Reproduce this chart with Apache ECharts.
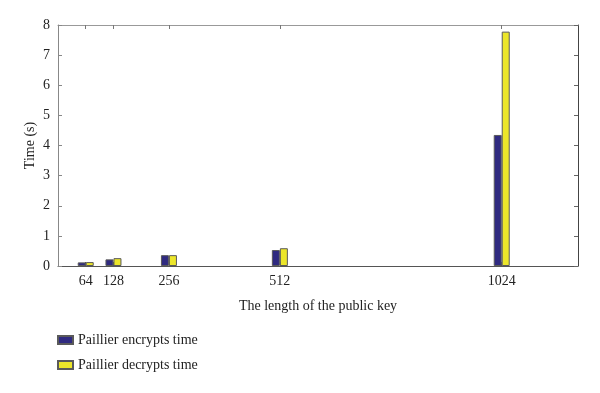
<!DOCTYPE html>
<html>
<head>
<meta charset="utf-8">
<script src="https://cdn.jsdelivr.net/npm/echarts@6/dist/echarts.min.js"></script>
<style>html,body{margin:0;padding:0;background:#fff}#c{width:600px;height:393px}</style>
</head>
<body>
<div id="c"></div>
<script>
const keyLengths = [64, 128, 256, 512, 1024];
const encryptTimes = [0.12, 0.22, 0.36, 0.53, 4.35];
const decryptTimes = [0.13, 0.26, 0.36, 0.59, 7.78];
const yTicks = [0, 1, 2, 3, 4, 5, 6, 7, 8];
const seriesNames = ['Paillier encrypts time', 'Paillier decrypts time'];

const font = 'Liberation Serif';
const chart = echarts.init(document.getElementById('c'));
const mk = arr => keyLengths.map((k, i) => [k, arr[i]]);
const barStyle = c => ({ color: c, borderColor: '#5a5a5a', borderWidth: 1 });
const tick = (c, len) => ({ show: true, inside: true, length: len, lineStyle: { color: c } });

chart.setOption({
  animation: false,
  textStyle: { fontFamily: font },
  grid: { left: 58, right: 22, top: 25, bottom: 127 },
  legend: {
    orient: 'vertical', left: 57, top: 333, padding: 0, itemWidth: 15, itemHeight: 8, itemGap: 11,
    textStyle: { fontFamily: font, fontSize: 14, color: '#222' },
    data: seriesNames.map(n => ({ name: n, icon: 'rect' }))
  },
  xAxis: [{
    type: 'value', min: 0, max: 1200, position: 'bottom', gridIndex: 0,
    name: 'The length of the public key', nameLocation: 'middle', nameGap: 33,
    nameTextStyle: { fontFamily: font, fontSize: 14, color: '#222' },
    axisLine: { show: true, onZero: false, lineStyle: { color: '#555' } },
    axisTick: Object.assign({ customValues: keyLengths }, tick('#555', 4)),
    axisLabel: { customValues: keyLengths, fontFamily: font, fontSize: 14, color: '#222', margin: 8,
      formatter: v => String(v) },
    splitLine: { show: false }
  }, {
    type: 'value', min: 0, max: 1200, position: 'top', gridIndex: 0,
    axisLine: { show: true, onZero: false, lineStyle: { color: '#999' } },
    axisTick: Object.assign({ customValues: keyLengths }, tick('#777', 4)),
    axisLabel: { show: false }, splitLine: { show: false }
  }],
  yAxis: [{
    type: 'value', min: 0, max: 8, interval: 1, position: 'left', gridIndex: 0,
    name: 'Time (s)', nameLocation: 'middle', nameGap: 21, nameRotate: 90, nameMoveOverlap: false,
    nameTextStyle: { fontFamily: font, fontSize: 14, color: '#222' },
    axisLine: { show: true, onZero: false, lineStyle: { color: '#888' } },
    axisTick: tick('#888', 4),
    axisLabel: { fontFamily: font, fontSize: 14, color: '#222', margin: 8, customValues: yTicks },
    splitLine: { show: false }
  }, {
    type: 'value', min: 0, max: 8, interval: 1, position: 'right', gridIndex: 0,
    axisLine: { show: true, onZero: false, lineStyle: { color: '#444' } },
    axisTick: tick('#666', 4),
    axisLabel: { show: false }, splitLine: { show: false }
  }],
  series: [{
    name: seriesNames[0], type: 'bar', barWidth: 8, barGap: '0%', xAxisIndex: 0, yAxisIndex: 0,
    itemStyle: barStyle('#2f2a80'), data: mk(encryptTimes)
  }, {
    name: seriesNames[1], type: 'bar', barWidth: 8, barGap: '0%', xAxisIndex: 0, yAxisIndex: 0,
    itemStyle: barStyle('#ece62a'), data: mk(decryptTimes)
  }, {
    name: 'frame', type: 'scatter', xAxisIndex: 1, yAxisIndex: 1, symbolSize: 0,
    silent: true, data: [[0, 0]]
  }]
});
</script>
</body>
</html>
